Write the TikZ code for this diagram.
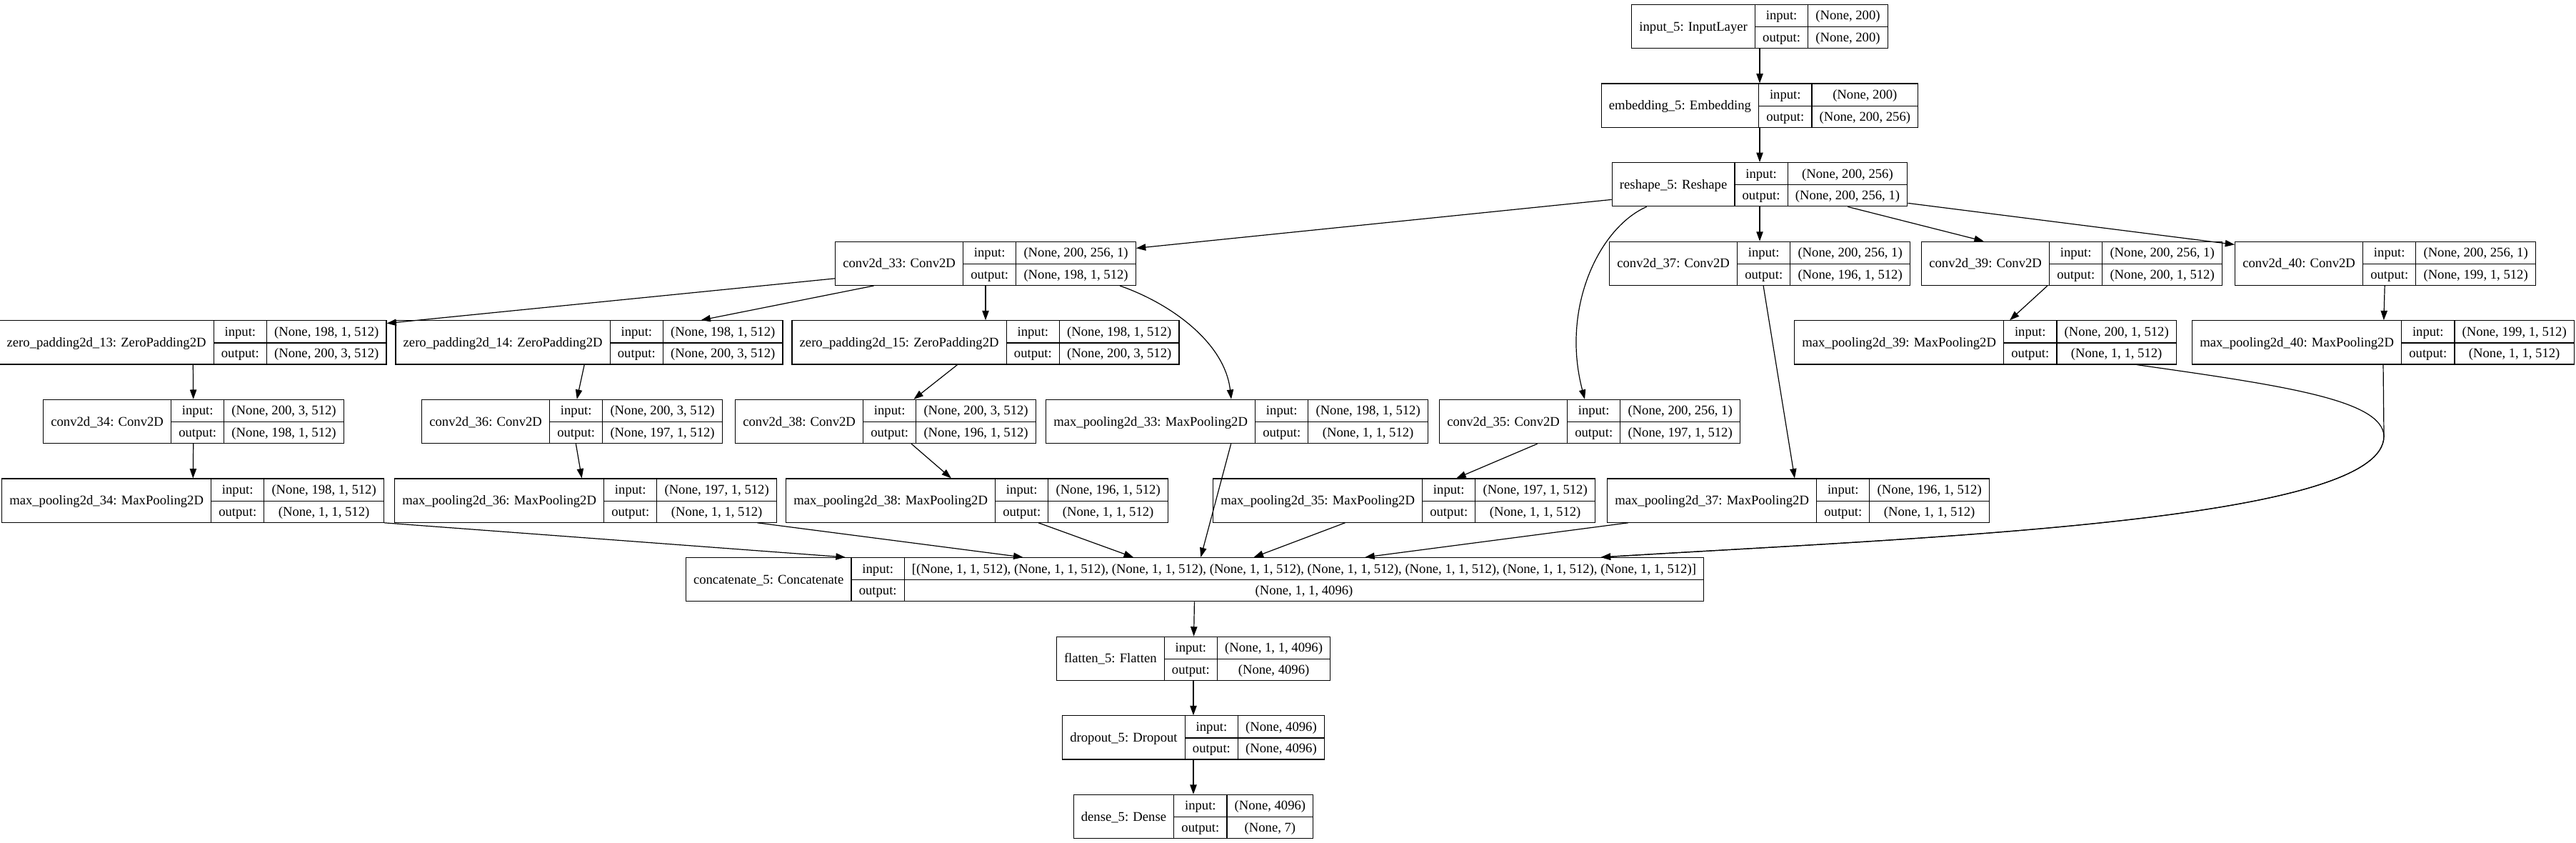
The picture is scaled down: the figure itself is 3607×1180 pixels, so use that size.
\documentclass[tikz,border=0pt]{standalone}
\usepackage{fontspec}
\setmainfont{Liberation Serif}
\usetikzlibrary{arrows.meta,calc}

\setlength{\tabcolsep}{8pt}
\setlength{\arrayrulewidth}{0.9pt}
\renewcommand{\arraystretch}{1.35}
% one keras record: name | input/output | shapes
\newcommand{\rec}[3]{%
  \begin{tabular}{c|c|c}
    \raisebox{-11.5pt}[0pt][0pt]{#1} & input: & #2\\ \cline{2-3}
    & output: & #3
  \end{tabular}}

\begin{document}
\begin{tikzpicture}[x=0.75pt,y=-0.75pt,
  layer/.style={draw,line width=0.9pt,inner sep=0pt,fill=white,font=\fontsize{14}{17}\selectfont},
  edge/.style={line width=0.9pt,-{Triangle[length=10pt,width=7pt]}}]
  \useasboundingbox (0,0) rectangle (3607,1180);
  \fill[white] (0,0) rectangle (3607,1180);

  % stem
  \node[layer] (in5) at (2464,37) {\rec{input\_5: InputLayer}{(None, 200)}{(None, 200)}};
  \node[layer] (emb5) at (2464,147.6) {\rec{embedding\_5: Embedding}{(None, 200)}{(None, 200, 256)}};
  \node[layer] (resh5) at (2464,258.2) {\rec{reshape\_5: Reshape}{(None, 200, 256)}{(None, 200, 256, 1)}};

  % first convolutions
  \node[layer] (conv33) at (1380,368.8) {\rec{conv2d\_33: Conv2D}{(None, 200, 256, 1)}{(None, 198, 1, 512)}};
  \foreach \n/\x/\s in {37/2464/196, 39/2901/200, 40/3340/199} {
    \node[layer] (conv\n) at (\x,368.8) {\rec{conv2d\_\n: Conv2D}{(None, 200, 256, 1)}{(None, \s, 1, 512)}};
  }

  % padding row
  \foreach \n/\x in {13/270, 14/825, 15/1380} {
    \node[layer] (zp\n) at (\x,479.4) {\rec{zero\_padding2d\_\n: ZeroPadding2D}{(None, 198, 1, 512)}{(None, 200, 3, 512)}};
  }
  \node[layer] (mp39) at (2780,479.4) {\rec{max\_pooling2d\_39: MaxPooling2D}{(None, 200, 1, 512)}{(None, 1, 1, 512)}};
  \node[layer] (mp40) at (3337,479.4) {\rec{max\_pooling2d\_40: MaxPooling2D}{(None, 199, 1, 512)}{(None, 1, 1, 512)}};

  % second convolutions
  \node[layer] (conv34) at (271,590) {\rec{conv2d\_34: Conv2D}{(None, 200, 3, 512)}{(None, 198, 1, 512)}};
  \node[layer] (conv36) at (801,590) {\rec{conv2d\_36: Conv2D}{(None, 200, 3, 512)}{(None, 197, 1, 512)}};
  \node[layer] (conv38) at (1240,590) {\rec{conv2d\_38: Conv2D}{(None, 200, 3, 512)}{(None, 196, 1, 512)}};
  \node[layer] (mp33) at (1732,590) {\rec{max\_pooling2d\_33: MaxPooling2D}{(None, 198, 1, 512)}{(None, 1, 1, 512)}};
  \node[layer] (conv35) at (2226,590) {\rec{conv2d\_35: Conv2D}{(None, 200, 256, 1)}{(None, 197, 1, 512)}};

  % pooling row
  \foreach \n/\x/\s in {34/270/198, 36/820/197, 38/1368/196, 35/1966/197, 37/2518/196} {
    \node[layer] (mp\n) at (\x,700.6) {\rec{max\_pooling2d\_\n: MaxPooling2D}{(None, \s, 1, 512)}{(None, 1, 1, 512)}};
  }

  % head
  \node[layer] (cat5) at (1673,811.2) {\rec{concatenate\_5: Concatenate}{[(None, 1, 1, 512), (None, 1, 1, 512), (None, 1, 1, 512), (None, 1, 1, 512), (None, 1, 1, 512), (None, 1, 1, 512), (None, 1, 1, 512), (None, 1, 1, 512)]}{(None, 1, 1, 4096)}};
  \node[layer] (flat5) at (1671,921.8) {\rec{flatten\_5: Flatten}{(None, 1, 1, 4096)}{(None, 4096)}};
  \node[layer] (drop5) at (1671,1032.4) {\rec{dropout\_5: Dropout}{(None, 4096)}{(None, 4096)}};
  \node[layer] (dense5) at (1671,1143) {\rec{dense\_5: Dense}{(None, 4096)}{(None, 7)}};

  % straight edges
  \foreach \a/\b in {in5/emb5, emb5/resh5, resh5/conv33, resh5/conv37, resh5/conv39, resh5/conv40,
      conv33/zp13, conv33/zp14, conv33/zp15, conv39/mp39, conv40/mp40,
      zp13/conv34, zp14/conv36, zp15/conv38, conv34/mp34, conv36/mp36, conv38/mp38,
      conv35/mp35, conv37/mp37, mp36/cat5, mp38/cat5, mp33/cat5, mp35/cat5, mp37/cat5,
      cat5/flat5, flat5/drop5, drop5/dense5} {
    \draw[edge] (\a) -- (\b);
  }

  % bent edges
  \draw[edge] ($(resh5.south west)+(49,0)$) .. controls (2240,318) and (2185,430) .. ($(conv35.north)+(-7,0)$);
  \draw[edge] ($(conv33.south east)+(-23,0)$) .. controls (1640,425) and (1715,480) .. ($(mp33.north)+(-8,0)$);
  \draw[edge] (mp34.south east) -- ($(cat5.north west)+(224,0)$);
  \draw[edge] (mp40.south) -- (3338,610) .. controls (3340,730) and (2700,752) .. ($(cat5.north west)+(1282,0)$);
  \draw[edge] ($(mp39.south east)+(-56,0)$) .. controls (3200,540) and (3335,560) .. (3338,610)
    .. controls (3340,730) and (2700,752) .. ($(cat5.north west)+(1282,0)$);
\end{tikzpicture}
\end{document}
